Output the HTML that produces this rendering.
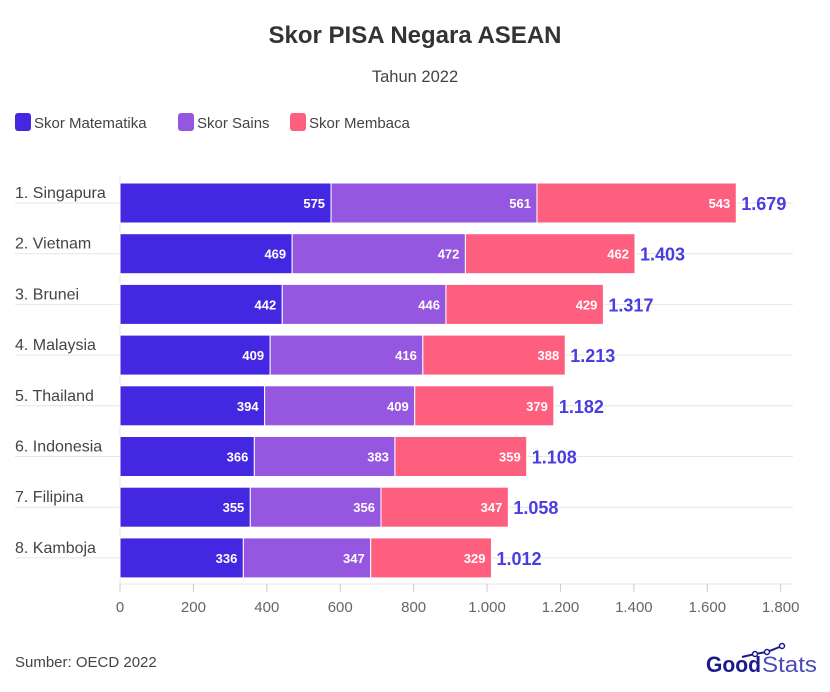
<!DOCTYPE html>
<html><head><meta charset="utf-8"><style>
body{margin:0;background:#fff;font-family:"Liberation Sans",sans-serif;}
#wrap{position:relative;width:830px;height:692px;overflow:hidden;}
</style></head><body>
<div id="wrap">
<svg id="chart" width="830" height="692" xmlns="http://www.w3.org/2000/svg">
<text x="415" y="43" text-anchor="middle" font-size="24" font-weight="bold" fill="#333">Skor PISA Negara ASEAN</text>
<text x="415" y="82" text-anchor="middle" font-size="16.5" fill="#444">Tahun 2022</text>
<g>
<g><rect x="15" y="113" width="16" height="18" rx="3" fill="#4427e0"/><text x="34" y="128" font-size="15" fill="#444">Skor Matematika</text></g>
<g><rect x="178" y="113" width="16" height="18" rx="3" fill="#9556e0"/><text x="197" y="128" font-size="15" fill="#444">Skor Sains</text></g>
<g><rect x="290" y="113" width="16" height="18" rx="3" fill="#ff5f7e"/><text x="309" y="128" font-size="15" fill="#444">Skor Membaca</text></g>
</g>
<g id="plot"></g>
<text x="15" y="667" font-size="15" fill="#444">Sumber: OECD 2022</text>
<g>
<polyline points="742,657 755,654 767,652 782,646" fill="none" stroke="#1a1a8c" stroke-width="2"/>
<circle cx="755" cy="654" r="2.5" fill="#fff" stroke="#1a1a8c" stroke-width="1.5"/>
<circle cx="767" cy="652" r="2.5" fill="#fff" stroke="#1a1a8c" stroke-width="1.5"/>
<circle cx="782" cy="646" r="2.5" fill="#fff" stroke="#1a1a8c" stroke-width="1.5"/>
<text x="706" y="672" font-size="22" font-weight="bold" fill="#1a1a8c" textLength="55" lengthAdjust="spacingAndGlyphs">Good</text>
<text x="762" y="672" font-size="22" fill="#4a4ab8" textLength="55" lengthAdjust="spacingAndGlyphs">Stats</text>
</g>
</svg>
</div>
<script>
const countries=["1. Singapura","2. Vietnam","3. Brunei","4. Malaysia","5. Thailand","6. Indonesia","7. Filipina","8. Kamboja"];
const matematika=[575,469,442,409,394,366,355,336];
const sains=[561,472,446,416,409,383,356,347];
const membaca=[543,462,429,388,379,359,347,329];
const totals=["1.679","1.403","1.317","1.213","1.182","1.108","1.058","1.012"];
const ticks=[0,200,400,600,800,1000,1200,1400,1600,1800];
const tickLabels=["0","200","400","600","800","1.000","1.200","1.400","1.600","1.800"];
const NS="http://www.w3.org/2000/svg";
const plot=document.getElementById('plot');
const x0=120,scale=660.7/1800;
const xs=v=>x0+v*scale;
const rowTop=i=>183+i*50.7;
const bh=40;
function mk(t,a){const e=document.createElementNS(NS,t);for(const k in a)e.setAttribute(k,a[k]);plot.appendChild(e);return e;}
mk('line',{x1:x0,y1:175,x2:x0,y2:584,stroke:'#e6e6e6'});
mk('line',{x1:x0,y1:584,x2:793,y2:584,stroke:'#e6e6e6'});
ticks.forEach((t,i)=>{
 const tk=mk('line',{x1:xs(t),y1:584,x2:xs(t),y2:592,stroke:'#ccc'});
 
 
 const tl=mk('text',{x:xs(t),y:612,'text-anchor':'middle','font-size':15,fill:'#666'});
 tl.textContent=tickLabels[i];
 
 
});
const series=[[matematika,'#4427e0','matematika'],[sains,'#9556e0','sains'],[membaca,'#ff5f7e','membaca']];
countries.forEach((c,i)=>{
 const y=rowTop(i);
 const gl=mk('line',{x1:15,y1:y+bh/2,x2:793,y2:y+bh/2,stroke:'#e6e6e6'});
 
 
 const lab=mk('text',{x:15,y:y+15,'font-size':16,fill:'#444'});
 lab.textContent=c;
 
 
 let acc=0;
 series.forEach(([arr,col,nm])=>{
  const v=arr[i];
  const r=mk('rect',{x:xs(acc),y:y,width:xs(acc+v)-xs(acc),height:bh,fill:col,stroke:'#fff','stroke-width':1});
  
  
  acc+=v;
  const t=mk('text',{x:xs(acc)-6,y:y+25,'text-anchor':'end','font-size':13,'font-weight':'bold',fill:'#fff'});
  t.textContent=v;
  
  
 });
 const tt=mk('text',{x:xs(acc)+5,y:y+27,'font-size':18,'font-weight':'bold',fill:'#4a3de0'});
 tt.textContent=totals[i];
 
 
});
</script>
</body></html>
